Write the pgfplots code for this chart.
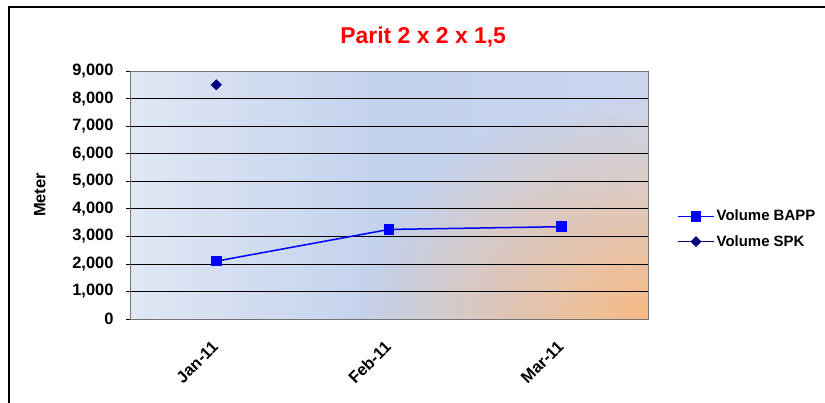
\documentclass[border=0pt]{standalone}
\usepackage{fontspec}
\setmainfont{Liberation Sans}
\usepackage{pgfplots}
\pgfplotsset{compat=1.18}
\usetikzlibrary{fadings}
\tikzfading[name=myfade, inner color=transparent!0, outer color=transparent!100]
\definecolor{bapp}{HTML}{0000FF}
\definecolor{spk}{HTML}{000080}
\definecolor{bgL}{HTML}{E0E7F4}
\definecolor{bgM}{HTML}{C2D1EC}
\definecolor{bgR}{HTML}{CAD6EE}
\definecolor{bgO}{HTML}{F7BA84}
\definecolor{titlered}{HTML}{FF0000}
\begin{document}
\begin{tikzpicture}[x=1bp,y=1bp]
\useasboundingbox (0,0) rectangle (825,402);
\draw[line width=2bp] (9,395) rectangle (840,-20);
\shade[left color=bgL, right color=bgR, middle color=bgM] (130,83) rectangle (648,331);
\begin{scope}
\clip (130,83) rectangle (648,331);
\fill[bgO, path fading=myfade] (648,83) ellipse [x radius=290, y radius=220];
\end{scope}
\begin{axis}[
  at={(130bp,83bp)}, anchor=south west, scale only axis,
  width=518bp, height=248bp,
  xmin=-0.5, xmax=2.5, ymin=0, ymax=9000,
  xtick={0,1,2}, xticklabels={Jan-11,Feb-11,Mar-11},
  ytick={0,1000,...,9000},
  /pgf/number format/.cd, 1000 sep={,}, assume math mode=true, /pgfplots/.cd,
  ymajorgrids, grid style={black, line width=0.7bp},
  axis line style={draw=gray!90!black, line width=1bp},
  tick align=outside, major tick length=4bp, ytick pos=left,
  ytick style={black, line width=0.7bp},
  xtick style={draw=none},
  tick label style={font=\fontsize{16.5}{18}\selectfont\bfseries},
  yticklabel style={xshift=-9bp},
  xticklabel style={rotate=45, anchor=east, xshift=-12bp, yshift=-14bp},
  ylabel={Meter},
  ylabel style={at={(axis description cs:-0.174,0.5)}, anchor=center, font=\fontsize{16.5}{18}\selectfont\bfseries},
  title={Parit 2 x 2 x 1,5},
  title style={at={(axis description cs:0.566,1.113)}, anchor=center, font=\fontsize{23}{26}\selectfont\bfseries, text=titlered},
  legend style={draw=none, fill=none, at={(1.056,0.363)}, anchor=west,
    font=\fontsize{15}{17}\selectfont\bfseries, row sep=9bp, inner sep=0pt,
    cells={anchor=west}},
  legend image code/.code={\draw[mark repeat=2,mark phase=2,#1] plot coordinates {(0bp,0bp) (18bp,0bp) (36bp,0bp)};},
  clip=false,
]
\addplot[bapp, line width=1.5bp, mark=square*, mark size=4.5bp, mark options={solid, fill=bapp, draw=bapp}]
  coordinates {(0,2100) (1,3250) (2,3350)};
\addlegendentry{Volume BAPP}
\addplot[spk, line width=1.5bp, mark=square*, mark size=3.2bp, mark options={solid, rotate=45, fill=spk, draw=spk}]
  coordinates {(0,8500)};
\addlegendentry{Volume SPK}
\end{axis}
\end{tikzpicture}
\end{document}
